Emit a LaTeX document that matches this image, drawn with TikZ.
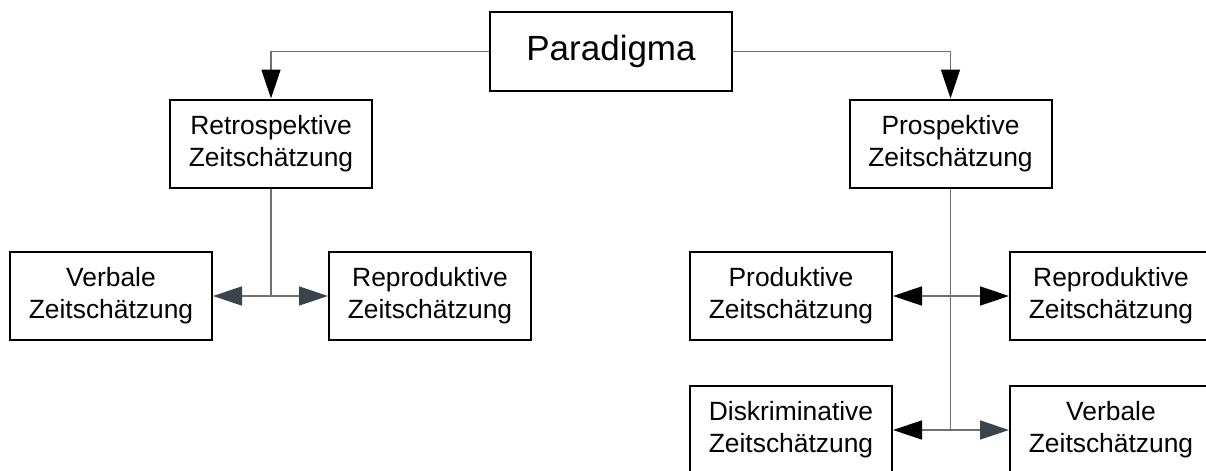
\documentclass[tikz,border=0pt]{standalone}
\usepackage{fontspec}
\setmainfont{Liberation Sans}
\usetikzlibrary{arrows.meta}
\definecolor{linegray}{RGB}{112,112,112}
\definecolor{slatetip}{RGB}{58,68,74}
\tikzset{
  box/.style={draw=black, line width=1pt, fill=white, inner sep=0pt,
    minimum width=101pt, minimum height=44pt, align=center,
    font=\fontsize{13.2pt}{16pt}\selectfont},
  conn/.style={draw=linegray, line width=0.7pt},
  blacktip/.style={conn, -{Triangle[length=14.5pt,width=9.5pt,fill=black,color=black]}},
  slatetipped/.style={conn, -{Triangle[length=14.5pt,width=9.5pt,fill=slatetip,color=slatetip]}}
}
\begin{document}
\begin{tikzpicture}[x=0.5pt, y=-0.5pt]
  \path[use as bounding box] (0,0) rectangle (1206,471);
  \clip (0,0) rectangle (1206,471);

  % top level
  \node[box, minimum width=121pt, minimum height=39.75pt,
        font=\fontsize{17.5pt}{20pt}\selectfont] (para) at (611,51.5) {Paradigma};

  % second level
  \node[box] (retro) at (271,143.5) {Retrospektive\\Zeitschätzung};
  \node[box] (prosp) at (950.5,143.5) {Prospektive\\Zeitschätzung};

  % retrospective branch
  \node[box] (verbL) at (111,296) {Verbale\\Zeitschätzung};
  \node[box] (reprL) at (430,296) {Reproduktive\\Zeitschätzung};

  % prospective branch
  \node[box] (prod)  at (791,296)  {Produktive\\Zeitschätzung};
  \node[box] (reprR) at (1111,296) {Reproduktive\\Zeitschätzung};
  \node[box] (disk)  at (791,430)  {Diskriminative\\Zeitschätzung};
  \node[box] (verbR) at (1111,430) {Verbale\\Zeitschätzung};

  % junction points
  \coordinate (jL)  at (retro.south |- verbL.east);
  \coordinate (jR1) at (prosp.south |- prod.east);
  \coordinate (jR2) at (prosp.south |- disk.east);

  % from the top box
  \draw[blacktip] (para.west) -| (retro.north);
  \draw[blacktip] (para.east) -| (prosp.north);

  % retrospective connectors
  \draw[conn] (retro.south) -- (jL);
  \draw[slatetipped] (jL) -- (verbL.east);
  \draw[slatetipped] (jL) -- (reprL.west);

  % prospective connectors
  \draw[conn] (prosp.south) -- (jR2);
  \draw[blacktip] (jR1) -- (prod.east);
  \draw[blacktip] (jR1) -- (reprR.west);
  \draw[blacktip] (jR2) -- (disk.east);
  \draw[slatetipped] (jR2) -- (verbR.west);
\end{tikzpicture}
\end{document}
